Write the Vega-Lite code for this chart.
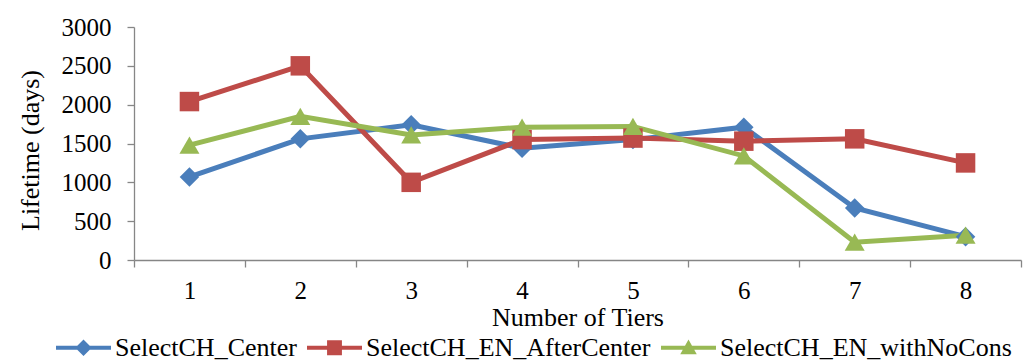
{
  "$schema": "https://vega.github.io/schema/vega-lite/v6.json",
  "width": 887,
  "height": 233,
  "autosize": "none",
  "padding": {"left": 134, "top": 27, "right": 14, "bottom": 103},
  "background": "white",
  "data": {
    "values": [
      {"tier": 1, "series": "SelectCH_Center", "lifetime": 1070},
      {"tier": 2, "series": "SelectCH_Center", "lifetime": 1560},
      {"tier": 3, "series": "SelectCH_Center", "lifetime": 1740},
      {"tier": 4, "series": "SelectCH_Center", "lifetime": 1440},
      {"tier": 5, "series": "SelectCH_Center", "lifetime": 1550},
      {"tier": 6, "series": "SelectCH_Center", "lifetime": 1710},
      {"tier": 7, "series": "SelectCH_Center", "lifetime": 670},
      {"tier": 8, "series": "SelectCH_Center", "lifetime": 300},
      {"tier": 1, "series": "SelectCH_EN_AfterCenter", "lifetime": 2040},
      {"tier": 2, "series": "SelectCH_EN_AfterCenter", "lifetime": 2500},
      {"tier": 3, "series": "SelectCH_EN_AfterCenter", "lifetime": 1000},
      {"tier": 4, "series": "SelectCH_EN_AfterCenter", "lifetime": 1550},
      {"tier": 5, "series": "SelectCH_EN_AfterCenter", "lifetime": 1570},
      {"tier": 6, "series": "SelectCH_EN_AfterCenter", "lifetime": 1530},
      {"tier": 7, "series": "SelectCH_EN_AfterCenter", "lifetime": 1560},
      {"tier": 8, "series": "SelectCH_EN_AfterCenter", "lifetime": 1250},
      {"tier": 1, "series": "SelectCH_EN_withNoCons", "lifetime": 1480},
      {"tier": 2, "series": "SelectCH_EN_withNoCons", "lifetime": 1850},
      {"tier": 3, "series": "SelectCH_EN_withNoCons", "lifetime": 1610},
      {"tier": 4, "series": "SelectCH_EN_withNoCons", "lifetime": 1710},
      {"tier": 5, "series": "SelectCH_EN_withNoCons", "lifetime": 1720},
      {"tier": 6, "series": "SelectCH_EN_withNoCons", "lifetime": 1340},
      {"tier": 7, "series": "SelectCH_EN_withNoCons", "lifetime": 230},
      {"tier": 8, "series": "SelectCH_EN_withNoCons", "lifetime": 320}
    ]
  },
  "encoding": {
    "x": {
      "field": "tier",
      "type": "ordinal",
      "bandPosition": 0.5,
      "scale": {"type": "band", "paddingInner": 0, "paddingOuter": 0},
      "axis": {
        "title": "Number of Tiers",
        "labelAngle": 0,
        "tickBand": "extent",
        "tickSize": 7,
        "labelPadding": 11,
        "titlePadding": 1
      }
    },
    "y": {
      "field": "lifetime",
      "type": "quantitative",
      "scale": {"domain": [0, 3000], "nice": false},
      "axis": {
        "title": "Lifetime (days)",
        "format": "d",
        "values": [0, 500, 1000, 1500, 2000, 2500, 3000],
        "grid": false,
        "tickSize": 7,
        "labelPadding": 16,
        "titleFontSize": 26,
        "titleX": -104,
        "titleY": 123,
        "titleBaseline": "middle"
      }
    },
    "color": {
      "field": "series",
      "type": "nominal",
      "scale": {
        "domain": ["SelectCH_Center", "SelectCH_EN_AfterCenter", "SelectCH_EN_withNoCons"],
        "range": ["#4A7EBB", "#BE4B48", "#98B954"]
      },
      "legend": {
        "title": null,
        "orient": "none",
        "direction": "horizontal",
        "legendX": -78,
        "legendY": 293,
        "symbolSize": 3025,
        "labelOffset": 4,
        "columnPadding": 10,
        "encode": {
          "symbols": {
            "update": {
              "shape": {"signal": "datum.value === 'SelectCH_Center' ? 'M-1,-0.075H1V0.075H-1Z M-0.3,0L0,-0.3L0.3,0L0,0.3Z' : datum.value === 'SelectCH_EN_AfterCenter' ? 'M-1,-0.075H1V0.075H-1Z M-0.27,-0.27H0.27V0.27H-0.27Z' : 'M-1,-0.075H1V0.075H-1Z M0,-0.3L0.3,0.24L-0.3,0.24Z'"},
              "fill": {"signal": "scale('color', datum.value)"},
              "stroke": {"value": "transparent"},
              "strokeWidth": {"value": 0},
              "opacity": {"value": 1}
            }
          }
        }
      }
    }
  },
  "layer": [
    {
      "mark": {"type": "line", "strokeWidth": 5}
    },
    {
      "transform": [{"filter": "datum.series === 'SelectCH_Center'"}],
      "mark": {"type": "point", "shape": "diamond", "filled": true, "opacity": 1, "size": 380}
    },
    {
      "transform": [{"filter": "datum.series === 'SelectCH_EN_AfterCenter'"}],
      "mark": {"type": "point", "shape": "square", "filled": true, "opacity": 1, "size": 380}
    },
    {
      "transform": [{"filter": "datum.series === 'SelectCH_EN_withNoCons'"}],
      "mark": {"type": "point", "shape": "triangle-up", "filled": true, "opacity": 1, "size": 400}
    }
  ],
  "config": {
    "font": "Liberation Serif, Times New Roman, DejaVu Serif, serif",
    "view": {"stroke": null},
    "axis": {
      "domainColor": "#868686",
      "tickColor": "#868686",
      "domainWidth": 1.3,
      "tickWidth": 1.3,
      "labelFont": "Liberation Serif, Times New Roman, DejaVu Serif, serif",
      "labelFontSize": 25,
      "labelColor": "black",
      "titleFont": "Liberation Serif, Times New Roman, DejaVu Serif, serif",
      "titleFontSize": 26,
      "titleFontWeight": "normal",
      "titleColor": "black"
    },
    "legend": {
      "labelFont": "Liberation Serif, Times New Roman, DejaVu Serif, serif",
      "labelFontSize": 26,
      "labelColor": "black",
      "labelLimit": 400
    }
  }
}
